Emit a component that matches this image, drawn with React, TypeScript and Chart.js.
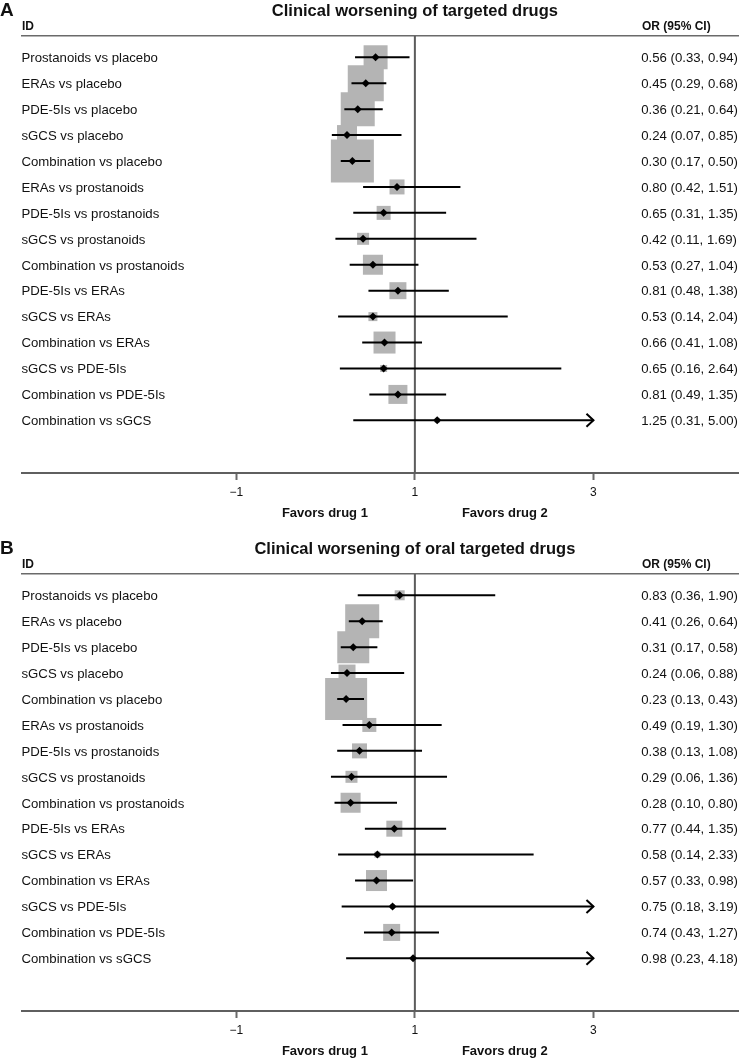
import React, { useEffect, useRef } from "react";
import { Chart, registerables } from "chart.js";

Chart.register(...registerables);

// ---------- data ----------
const comparisons = [
  "Prostanoids vs placebo",
  "ERAs vs placebo",
  "PDE-5Is vs placebo",
  "sGCS vs placebo",
  "Combination vs placebo",
  "ERAs vs prostanoids",
  "PDE-5Is vs prostanoids",
  "sGCS vs prostanoids",
  "Combination vs prostanoids",
  "PDE-5Is vs ERAs",
  "sGCS vs ERAs",
  "Combination vs ERAs",
  "sGCS vs PDE-5Is",
  "Combination vs PDE-5Is",
  "Combination vs sGCS",
];

const titleA = "Clinical worsening of targeted drugs";
const orA = [0.56, 0.45, 0.36, 0.24, 0.3, 0.8, 0.65, 0.42, 0.53, 0.81, 0.53, 0.66, 0.65, 0.81, 1.25];
const loA = [0.33, 0.29, 0.21, 0.07, 0.17, 0.42, 0.31, 0.11, 0.27, 0.48, 0.14, 0.41, 0.16, 0.49, 0.31];
const hiA = [0.94, 0.68, 0.64, 0.85, 0.5, 1.51, 1.35, 1.69, 1.04, 1.38, 2.04, 1.08, 2.64, 1.35, 5.0];
const weightA = [24, 36, 34, 20, 43, 15, 14, 12, 20, 17, 9, 22, 7, 19, 5];

const titleB = "Clinical worsening of oral targeted drugs";
const orB = [0.83, 0.41, 0.31, 0.24, 0.23, 0.49, 0.38, 0.29, 0.28, 0.77, 0.58, 0.57, 0.75, 0.74, 0.98];
const loB = [0.36, 0.26, 0.17, 0.06, 0.13, 0.19, 0.13, 0.06, 0.1, 0.44, 0.14, 0.33, 0.18, 0.43, 0.23];
const hiB = [1.9, 0.64, 0.58, 0.88, 0.43, 1.3, 1.08, 1.36, 0.8, 1.35, 2.33, 0.98, 3.19, 1.27, 4.18];
const weightB = [10, 34, 32, 17, 42, 14, 15, 12, 20, 16, 6, 21, 5, 17, 4];

const xTicks = [-1, 1, 3];
const xCap = 3;
const nullLine = 1;

// ---------- layout constants ----------
const W = 739;
const FF = '"Liberation Sans", Arial, Helvetica, sans-serif';
const X_MIN = -3.4;
const X_MAX = 4.63;
const Y_MIN = -0.82;
const Y_MAX = 16.03;
const AXIS_BOTTOM = 473;
const AXIS_H = 25;

const fmt = (v: number) => v.toFixed(2);

type PanelProps = {
  top: number;
  height: number;
  letter: string;
  title: string;
  or: number[];
  lo: number[];
  hi: number[];
  weight: number[];
};

function ForestPanel({ top, height, letter, title, or, lo, hi, weight }: PanelProps) {
  const ref = useRef<HTMLCanvasElement>(null);

  useEffect(() => {
    const canvas = ref.current;
    if (!canvas) return;

    const ciDatasets: any[] = comparisons.map((_, i) => ({
      type: "line",
      data: [
        { x: lo[i], y: i },
        { x: Math.min(hi[i], xCap), y: i },
      ],
      borderColor: "#000",
      borderWidth: 2,
      pointRadius: 0,
      showLine: true,
      fill: false,
      order: 1,
    }));

    const textPlugin = {
      id: "forestText",
      afterDraw(chart: any) {
        const { ctx } = chart;
        const xs = chart.scales.x;
        const ys = chart.scales.y;
        const p1 = xs.getPixelForValue(nullLine);
        ctx.save();
        ctx.fillStyle = "#111";
        ctx.textBaseline = "alphabetic";

        ctx.font = `bold 19px ${FF}`;
        ctx.textAlign = "left";
        ctx.fillText(letter, 0, 15.5);

        ctx.font = `bold 16.5px ${FF}`;
        ctx.textAlign = "center";
        ctx.fillText(title, p1, 15.5);

        ctx.font = `bold 12px ${FF}`;
        ctx.textAlign = "left";
        ctx.fillText("ID", 22, 29.5);
        ctx.fillText("OR (95% CI)", 642, 29.5);

        ctx.font = `13.2px ${FF}`;
        comparisons.forEach((c, i) => {
          const py = ys.getPixelForValue(i) + 4.8;
          ctx.fillText(c, 21.5, py);
          ctx.fillText(`${fmt(or[i])} (${fmt(lo[i])}, ${fmt(hi[i])})`, 641.2, py);
        });

        ctx.strokeStyle = "#000";
        ctx.lineWidth = 2;
        hi.forEach((h, i) => {
          if (h > xCap) {
            const px = xs.getPixelForValue(xCap);
            const py = ys.getPixelForValue(i);
            ctx.beginPath();
            ctx.moveTo(px - 7, py - 6.5);
            ctx.lineTo(px, py);
            ctx.lineTo(px - 7, py + 6.5);
            ctx.stroke();
          }
        });

        ctx.font = `bold 13px ${FF}`;
        ctx.textAlign = "right";
        ctx.fillText("Favors drug 1", p1 - 47, 516.5);
        ctx.textAlign = "left";
        ctx.fillText("Favors drug 2", p1 + 47, 516.5);
        ctx.restore();
      },
    };

    const chart = new Chart(canvas, {
      type: "scatter",
      data: {
        datasets: [
          {
            data: or.map((v, i) => ({ x: v, y: i })),
            pointStyle: "rectRot",
            pointRadius: 4,
            pointHoverRadius: 4,
            backgroundColor: "#000",
            borderWidth: 0,
            order: 0,
          } as any,
          ...ciDatasets,
          {
            type: "line",
            data: [
              { x: nullLine, y: Y_MIN },
              { x: nullLine, y: Y_MAX },
            ],
            borderColor: "#5c5c5c",
            borderWidth: 2,
            pointRadius: 0,
            showLine: true,
            fill: false,
            order: 2,
          } as any,
          {
            data: or.map((v, i) => ({ x: v, y: i })),
            pointStyle: "rect",
            pointRadius: weight.map((w) => w / Math.SQRT2),
            pointHoverRadius: weight.map((w) => w / Math.SQRT2),
            backgroundColor: "#b4b4b4",
            borderWidth: 0,
            order: 3,
          } as any,
        ],
      },
      options: {
        responsive: false,
        animation: false,
        events: [],
        layout: {
          autoPadding: false,
          padding: { top: 36, left: 22, right: 0, bottom: height - AXIS_BOTTOM - AXIS_H },
        },
        plugins: {
          legend: { display: false },
          tooltip: { enabled: false },
          title: { display: false },
        },
        scales: {
          x: {
            type: "linear",
            position: "bottom",
            min: X_MIN,
            max: X_MAX,
            afterBuildTicks: (s: any) => {
              s.ticks = xTicks.map((v) => ({ value: v }));
            },
            afterFit: (s: any) => {
              s.height = AXIS_H;
            },
            grid: {
              display: true,
              drawOnChartArea: false,
              drawTicks: true,
              tickLength: 7,
              tickWidth: 2,
              tickColor: "#6a6a6a",
              color: "#6a6a6a",
            },
            border: { display: true, color: "#5f5f5f", width: 2 },
            ticks: {
              padding: 5.5,
              color: "#111",
              font: { family: FF, size: 12 },
              maxRotation: 0,
              autoSkip: false,
              callback: (v: any) => (Number(v) < 0 ? "\u2212" + Math.abs(Number(v)) : String(v)),
            },
          },
          x2: {
            type: "linear",
            position: "top",
            min: X_MIN,
            max: X_MAX,
            afterFit: (s: any) => {
              s.height = 0;
            },
            ticks: { display: false },
            grid: { display: true, drawOnChartArea: false, drawTicks: false },
            border: { display: true, color: "#6a6a6a", width: 1.5 },
          },
          y: {
            type: "linear",
            min: Y_MIN,
            max: Y_MAX,
            reverse: true,
            display: false,
          },
        },
      } as any,
      plugins: [textPlugin],
    });

    return () => chart.destroy();
  }, []);

  return (
    <canvas
      ref={ref}
      width={W}
      height={height}
      style={{ position: "absolute", left: 0, top, width: W, height }}
    />
  );
}

export default function App() {
  return (
    <div style={{ position: "absolute", left: 0, top: 0, width: W, height: 1058, background: "#fff" }}>
      <ForestPanel top={0} height={538} letter="A" title={titleA} or={orA} lo={loA} hi={hiA} weight={weightA} />
      <ForestPanel top={538} height={520} letter="B" title={titleB} or={orB} lo={loB} hi={hiB} weight={weightB} />
    </div>
  );
}
